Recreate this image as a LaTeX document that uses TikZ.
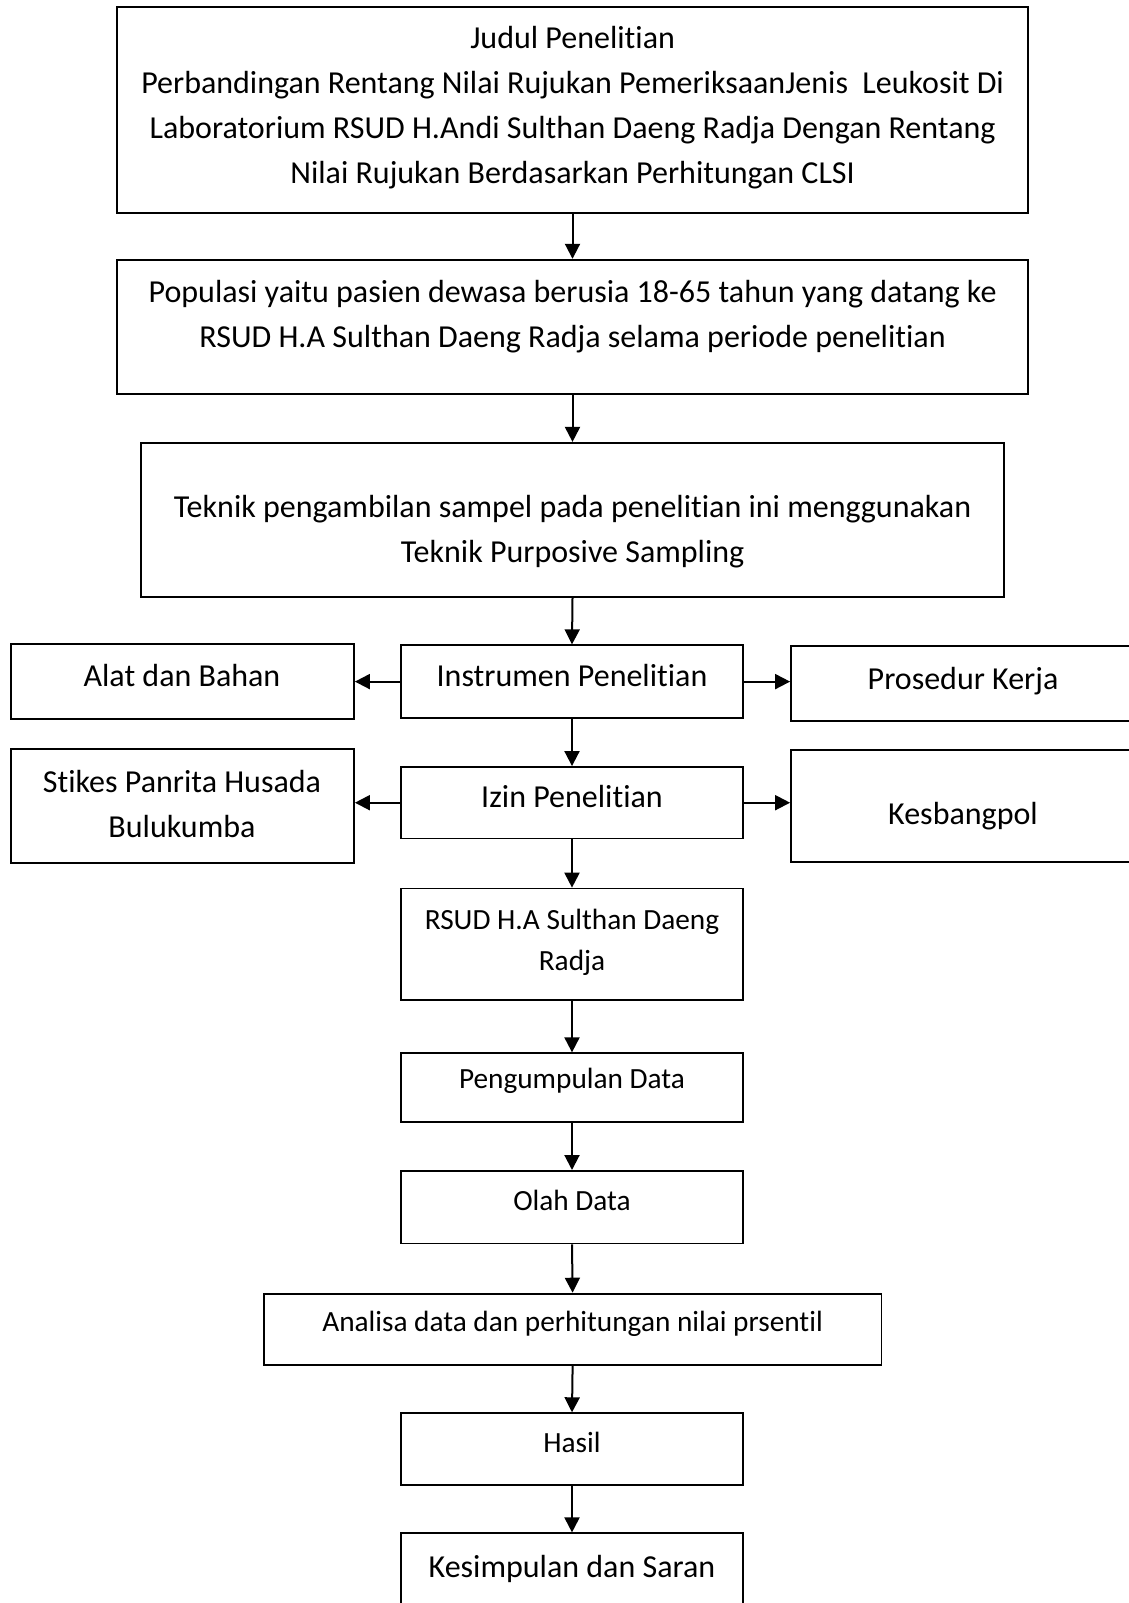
\documentclass[tikz,border=0pt]{standalone}
\usepackage{fontspec}
\setmainfont{Carlito}[Ligatures=NoCommon]
\usetikzlibrary{arrows.meta}
\begin{document}
\begin{tikzpicture}[x=1pt,y=-1pt,
  box/.style={draw=black, line width=1.8pt, inner sep=0pt},
  big/.style={font=\fontsize{32}{45}\selectfont, align=center, inner sep=0pt},
  small/.style={font=\fontsize{29.3}{41}\selectfont, align=center, inner sep=0pt},
  arr/.style={line width=2pt, -{Triangle[length=15pt,width=15pt]}}]
\useasboundingbox (0,0) rectangle (1129,1603);
% boxes
\node[box, minimum width=911pt, minimum height=205.7pt] (b1) at (572.5,110.2) {};
\node[box, minimum width=911pt, minimum height=134pt] (b2) at (572.5,326.7) {};
\node[box, minimum width=863pt, minimum height=154.4pt] (b3) at (572.5,520) {};
\node[box, minimum width=342pt, minimum height=72.7pt] (instr) at (572,681.6) {};
\node[box, minimum width=343pt, minimum height=74.7pt] (alat) at (182.5,681.3) {};
\node[box, minimum width=344pt, minimum height=74.7pt] (pros) at (963,683.3) {};
\node[box, minimum width=342pt, minimum height=71.5pt] (izin) at (572,802.7) {};
\node[box, minimum width=343pt, minimum height=114.3pt] (stikes) at (182.5,806.2) {};
\node[box, minimum width=344pt, minimum height=111.7pt] (kesb) at (963,805.8) {};
\node[box, minimum width=342pt, minimum height=111.5pt] (rsud) at (572,944.3) {};
\node[box, minimum width=342pt, minimum height=68.5pt] (peng) at (572,1087.5) {};
\node[box, minimum width=342pt, minimum height=72.6pt] (olah) at (572,1207.2) {};
\node[box, minimum width=617.7pt, minimum height=71.6pt] (anal) at (572.6,1329.4) {};
\node[box, minimum width=342pt, minimum height=71.6pt] (hasil) at (572,1449) {};
\node[box, minimum width=342pt, minimum height=72pt] (kesim) at (572,1569.3) {};
% texts
\node[big] (t1) at (572.6,107.5) {Judul Penelitian\\Perbandingan Rentang Nilai Rujukan PemeriksaanJenis\ \ Leukosit Di\\Laboratorium RSUD H.Andi Sulthan Daeng Radja Dengan Rentang\\Nilai Rujukan Berdasarkan Perhitungan CLSI};
\node[big] (t2) at (572.6,316.5) {Populasi yaitu pasien dewasa berusia 18-65 tahun yang datang ke\\RSUD H.A Sulthan Daeng Radja selama periode penelitian};
\node[big] (t3) at (572.6,531.5) {Teknik pengambilan sampel pada penelitian ini menggunakan\\Teknik Purposive Sampling};
\node[big] (tinstr) at (572,675) {Instrumen Penelitian};
\node[big] (talat) at (182,675) {Alat dan Bahan};
\node[big] (tpros) at (963,681) {Prosedur Kerja};
\node[big] (tizin) at (572,796.6) {Izin Penelitian};
\node[big] (tstikes) at (182,803.5) {Stikes Panrita Husada\\Bulukumba};
\node[big] (tkesb) at (963,816) {Kesbangpol};
\node[small] (trsud) at (572,942) {RSUD H.A Sulthan Daeng\\Radja};
\node[small] (tpeng) at (572,1081) {Pengumpulan Data};
\node[small] (tolah) at (572,1200) {Olah Data};
\node[small] (tanal) at (572.6,1324) {Analisa data dan perhitungan nilai prsentil};
\node[small] (thasil) at (572,1442.5) {Hasil};
\node[big] (tkesim) at (572,1568.6) {Kesimpulan dan Saran};
% connectors
\draw[arr] (b1.south) -- (b2.north);
\draw[arr] (b2.south) -- (b3.north);
\draw[arr] (b3.south) -- (instr.north);
\draw[arr] (instr.west) -- (instr.west -| alat.east);
\draw[arr] (instr.east) -- (instr.east -| pros.west);
\draw[arr] (instr.south) -- (izin.north);
\draw[arr] (izin.west) -- (izin.west -| stikes.east);
\draw[arr] (izin.east) -- (izin.east -| kesb.west);
\draw[arr] (izin.south) -- (rsud.north);
\draw[arr] (rsud.south) -- (peng.north);
\draw[arr] (peng.south) -- (olah.north);
\draw[arr] (olah.south) -- (anal.north);
\draw[arr] (anal.south) -- (hasil.north);
\draw[arr] (hasil.south) -- (kesim.north);
\end{tikzpicture}
\end{document}
